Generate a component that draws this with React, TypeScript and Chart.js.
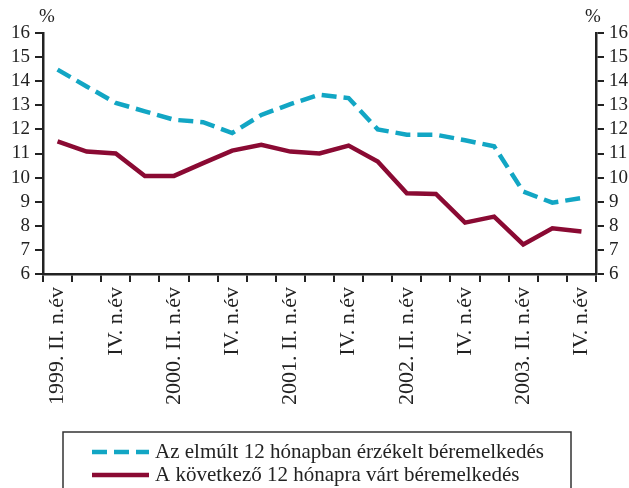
import React, { useEffect, useRef } from "react";
import { Chart, registerables } from "chart.js";

Chart.register(...registerables);

const categories = [
  "1999. II.", "1999. III.", "1999. IV.",
  "2000. I.", "2000. II.", "2000. III.", "2000. IV.",
  "2001. I.", "2001. II.", "2001. III.", "2001. IV.",
  "2002. I.", "2002. II.", "2002. III.", "2002. IV.",
  "2003. I.", "2003. II.", "2003. III.", "2003. IV.",
];

const tickLabels = [
  "1999. II. n.év", "", "IV. n.év", "",
  "2000. II. n.év", "", "IV. n.év", "",
  "2001. II. n.év", "", "IV. n.év", "",
  "2002. II. n.év", "", "IV. n.év", "",
  "2003. II. n.év", "", "IV. n.év",
];

const perceived = [14.48, 13.78, 13.1, 12.75, 12.4, 12.3, 11.85, 12.6, 13.05, 13.44, 13.3, 12.0, 11.78, 11.78, 11.55, 11.3, 9.42, 8.96, 9.15];
const expected = [11.5, 11.08, 11.0, 10.07, 10.07, 10.6, 11.12, 11.36, 11.08, 11.0, 11.33, 10.67, 9.35, 9.32, 8.13, 8.38, 7.23, 7.9, 7.76];

const seriesNames = [
  "Az elmúlt 12 hónapban érzékelt béremelkedés",
  "A következő 12 hónapra várt béremelkedés",
];

const yMin = 6;
const yMax = 16;
const unitLabel = "%";

const BLUE = "#12a6c4";
const RED = "#8a0a33";
const FONT = "'Liberation Serif', 'Times New Roman', serif";

const extrasPlugin = {
  id: "extras",
  afterDraw(chart: any) {
    const ctx = chart.ctx;
    const area = chart.chartArea;
    ctx.save();
    // unit labels
    ctx.fillStyle = "#222";
    ctx.font = `19px ${FONT}`;
    ctx.textAlign = "center";
    ctx.textBaseline = "middle";
    ctx.fillText(unitLabel, area.left + 4, area.top - 16);
    ctx.fillText(unitLabel, area.right - 3, area.top - 16);

    // legend box
    const boxLeft = 63;
    const boxTop = area.bottom + 158;
    const boxRight = 571;
    ctx.strokeStyle = "#333";
    ctx.lineWidth = 1.5;
    ctx.strokeRect(boxLeft, boxTop, boxRight - boxLeft, 80);

    const items = chart.data.datasets;
    items.forEach((ds: any, i: number) => {
      const y = boxTop + 20 + i * 23;
      ctx.beginPath();
      ctx.strokeStyle = ds.borderColor;
      ctx.lineWidth = 4.5;
      ctx.setLineDash(ds.borderDash || []);
      ctx.moveTo(92, y);
      ctx.lineTo(149, y);
      ctx.stroke();
      ctx.setLineDash([]);
      ctx.fillStyle = "#222";
      ctx.font = `21px ${FONT}`;
      ctx.textAlign = "left";
      ctx.textBaseline = "middle";
      ctx.fillText(ds.label, 155, y);
    });
    ctx.restore();
  },
};

export default function App() {
  const ref = useRef<HTMLCanvasElement | null>(null);

  useEffect(() => {
    if (!ref.current) return;
    const yCommon = {
      min: yMin,
      max: yMax,
      ticks: { stepSize: 1, autoSkip: false, color: "#222", font: { family: FONT, size: 19 }, padding: 5 },
      grid: { drawOnChartArea: false, drawTicks: true, tickLength: 8, color: "#222", lineWidth: 2 },
      border: { display: true, color: "#222", width: 2.5 },
    };
    const chart = new Chart(ref.current, {
      type: "line",
      data: {
        labels: categories,
        datasets: [
          {
            label: seriesNames[0],
            data: perceived,
            borderColor: BLUE,
            backgroundColor: BLUE,
            borderWidth: 4.5,
            borderDash: [15, 7],
            pointRadius: 0,
            tension: 0,
            yAxisID: "y",
          },
          {
            label: seriesNames[1],
            data: expected,
            borderColor: RED,
            backgroundColor: RED,
            borderWidth: 4.5,
            pointRadius: 0,
            tension: 0,
            yAxisID: "y",
          },
        ],
      },
      options: {
        responsive: false,
        animation: false,
        layout: { padding: { top: 33, left: 0, right: 0, bottom: 0 } },
        plugins: { legend: { display: false }, tooltip: { enabled: false } },
        scales: {
          x: {
            offset: true,
            grid: { offset: true, drawOnChartArea: false, drawTicks: true, tickLength: 8, color: "#222", lineWidth: 2 },
            border: { display: true, color: "#222", width: 2.5 },
            ticks: {
              autoSkip: false,
              minRotation: 90,
              maxRotation: 90,
              padding: 5,
              color: "#222",
              font: { family: FONT, size: 22 },
              callback: (_v: any, i: number) => tickLabels[i],
            },
            afterFit: (s: any) => { s.height = 214; },
          },
          y: {
            ...yCommon,
            position: "left",
            afterFit: (s: any) => { s.width = 43; },
          },
          y2: {
            ...yCommon,
            position: "right",
            afterFit: (s: any) => { s.width = 33; },
          },
        },
      } as any,
      plugins: [extrasPlugin],
    });
    return () => chart.destroy();
  }, []);

  return (
    <div style={{ position: "fixed", left: 0, top: 0, width: 629, height: 488, background: "#fff" }}>
      <canvas ref={ref} width={629} height={488} />
    </div>
  );
}
